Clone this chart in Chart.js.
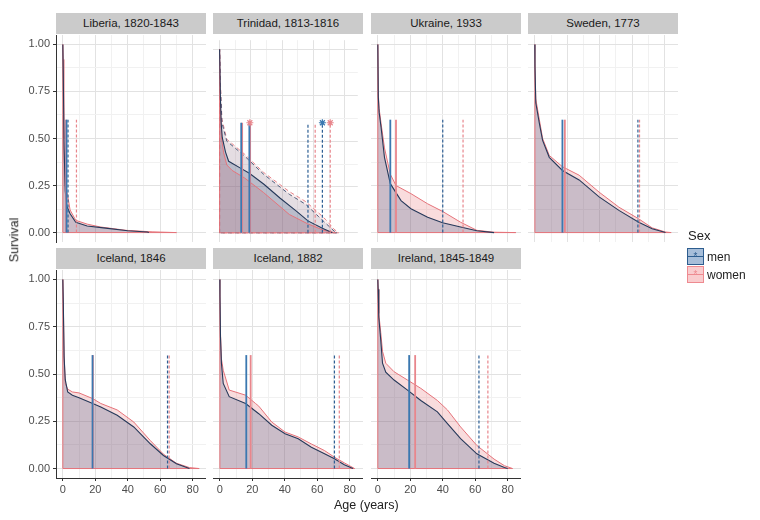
<!DOCTYPE html>
<html>
<head>
<meta charset="utf-8">
<script src="https://cdn.jsdelivr.net/npm/chart.js@4.4.0/dist/chart.umd.min.js"></script>
<style>
  body { margin: 0; background: #fff; font-family: "Liberation Sans", Arial, sans-serif; }
  #wrap { position: relative; width: 760px; height: 520px; overflow: hidden; background: #fff; }
  canvas { position: absolute; }
  .strip { position: absolute; background: #cbcbcb; color: #1a1a1a; font-size: 11.5px; text-align: center; line-height: 21px; height: 21px; }
  .title { position: absolute; color: #222; font-size: 12px; white-space: nowrap; }
  .key { position: absolute; width: 15px; height: 15px; }
  .key .kl { position: absolute; left: 0; right: 0; top: 7px; height: 1px; }
  .key .ks { position: absolute; left: 0; right: 0; top: 2px; text-align: center; font-size: 10px; line-height: 12px; }
  .klab { position: absolute; font-size: 12px; color: #222; }
</style>
</head>
<body>
<div id="wrap"></div>
<script>
// ages (years) and survival, one list per facet and sex
const liberiaMen = [[0,1],[0.3,0.82],[0.8,0.45],[1.5,0.22],[2.5,0.14],[4.5,0.1],[8,0.055],[15,0.035],[25,0.025],[40,0.01],[52,0.003],[53,0]];
const liberiaWomen = [[0,1],[0.2,0.92],[0.6,0.5],[1.4,0.25],[2.9,0.2],[4.5,0.12],[8,0.065],[15,0.045],[23,0.03],[39,0.012],[55,0.004],[70,0]];

const trinidadMen = [[0,1],[0.5,0.75],[1,0.6],[1.7,0.52],[3.8,0.44],[5.8,0.39],[13.9,0.35],[19,0.325],[28.3,0.265],[38.5,0.19],[48.8,0.12],[56.4,0.065],[65.6,0.025],[72,0]];
const trinidadWomen = [[0,1],[0.5,0.7],[1.2,0.52],[2.5,0.44],[4.6,0.37],[8,0.34],[15.8,0.3],[28,0.22],[44.5,0.1],[56,0.05],[66,0.015],[74,0]];
const trinidadMenB = [[0,1],[0.5,0.8],[1.5,0.6],[4.6,0.5],[15.8,0.42],[28,0.32],[44.5,0.21],[55,0.155],[63,0.09],[68,0.05],[73,0.01],[75,0]];
const trinidadWomenB = [[0,1],[0.5,0.82],[1.5,0.62],[4.6,0.51],[15.8,0.43],[28,0.33],[44.5,0.225],[55,0.17],[63,0.11],[68,0.07],[73,0.02],[76,0]];

const ukraineMen = [[0,1],[0.3,0.72],[0.8,0.64],[2,0.56],[4.1,0.4],[7.7,0.26],[14.3,0.17],[20.4,0.127],[30.7,0.082],[39.9,0.052],[51,0.03],[61,0.01],[71.6,0]];
const ukraineWomen = [[0,1],[0.3,0.74],[0.8,0.66],[2,0.58],[4.1,0.45],[7.7,0.31],[11.2,0.25],[20.4,0.207],[30.7,0.153],[40,0.112],[51,0.055],[61,0.012],[71.6,0.002],[85,0]];

const swedenMen = [[0,1],[0.1,0.88],[0.6,0.69],[2.8,0.58],[4.8,0.49],[8.9,0.4],[17,0.33],[27.3,0.28],[39.6,0.19],[51.8,0.118],[64,0.055],[72.3,0.02],[80.5,0]];
const swedenWomen = [[0,1],[0.1,0.9],[0.6,0.71],[2.8,0.6],[4.8,0.5],[8.9,0.41],[17,0.35],[27.3,0.305],[39.6,0.215],[51.8,0.135],[64,0.073],[72.3,0.025],[80.5,0.003],[84,0]];

const iceland1846Men = [[0,1],[0.3,0.876],[0.8,0.59],[1.5,0.47],[3,0.405],[5.9,0.388],[10,0.375],[18.4,0.344],[23.4,0.326],[33.5,0.282],[43.7,0.22],[53.9,0.131],[62,0.069],[70,0.025],[78,0]];
const iceland1846Women = [[0,1],[0.3,0.88],[0.8,0.6],[1.5,0.45],[3,0.42],[5.9,0.405],[10,0.4],[18.4,0.37],[23.4,0.344],[33.5,0.31],[43.7,0.246],[53.9,0.148],[62,0.076],[70,0.028],[78,0.005],[84,0]];

const iceland1882Men = [[0,1],[0.1,0.91],[0.4,0.7],[1,0.557],[2.1,0.45],[5.8,0.38],[15.9,0.344],[24,0.29],[32,0.229],[40.2,0.184],[48.3,0.158],[56.4,0.113],[64.5,0.078],[70.6,0.052],[76.7,0.02],[82,0]];
const iceland1882Women = [[0,1],[0.1,0.92],[0.4,0.72],[1,0.58],[2.1,0.52],[5.8,0.415],[15.9,0.388],[22,0.344],[24,0.33],[32,0.246],[40.2,0.193],[48.3,0.167],[56.4,0.13],[64.5,0.095],[70.6,0.06],[76.7,0.03],[83,0]];

const irelandMen = [[0,1],[0.2,0.947],[0.6,0.8],[1.8,0.68],[2.9,0.557],[4.9,0.51],[10,0.468],[18.3,0.415],[26.5,0.36],[36.7,0.3],[42.9,0.238],[51,0.158],[61,0.078],[71.6,0.028],[78,0.005],[80,0]];
const irelandWomen = [[0,1],[0.2,0.95],[0.6,0.82],[1.8,0.72],[2.9,0.62],[4.9,0.557],[10,0.512],[18.3,0.468],[26.5,0.424],[36.7,0.36],[42.9,0.31],[51,0.22],[61,0.122],[71.6,0.05],[78,0.015],[83,0]];

// vertical markers: [men solid, women solid, men dashed, women dashed]
const liberiaLines = [2.3, 2.0, 3.2, 8.4];
const trinidadLines = [13.8, 14.4, 56.4, 61.0];
const trinidadLines2 = [19.0, 19.5, 65.6, 70.6];
const ukraineLines = [7.7, 11.2, 40.0, 52.5];
const swedenLines = [17.0, 18.5, 63.5, 64.5];
const iceland1846Lines = [18.3, 18.5, 64.5, 65.5];
const iceland1882Lines = [16.3, 19.0, 70.6, 73.6];
const irelandLines = [19.3, 23.0, 62.3, 67.8];
const lineTop = 0.6;
const trinidadStarsMen = [65.6];
const trinidadStarsWomen = [19.3, 70.6];

const panelTitles = ['Liberia, 1820-1843', 'Trinidad, 1813-1816', 'Ukraine, 1933', 'Sweden, 1773',
                     'Iceland, 1846', 'Iceland, 1882', 'Ireland, 1845-1849'];
const xTicks = [0, 10, 20, 30, 40, 50, 60, 70, 80];
const yTicks = [0, 0.125, 0.25, 0.375, 0.5, 0.625, 0.75, 0.875, 1];
const xRange = [-4.2, 88.2];
const yRange = [-0.05, 1.05];

// layout
const colLeft = [56, 213, 371, 528];
const rowTop = [35, 270];
const panelH = [207, 208];
const panelW = 150;
const stripH = 21;
const yAxisW = 45;
const xAxisH = 22;
const font = '"Liberation Sans", Arial, sans-serif';

const menLine = '#26395a', womenLine = '#e5737a';
const menMark = '#3b78b0', womenMark = '#e8868c';
const menFill = 'rgba(60,90,135,0.25)', womenFill = 'rgba(232,120,125,0.26)';
const menFillB = 'rgba(60,90,135,0.12)', womenFillB = 'rgba(232,120,125,0.12)';
const majorGrid = '#e2e2e2', minorGrid = '#f1f1f1';

const panels = [
  {men: liberiaMen, women: liberiaWomen, lines: liberiaLines},
  {men: trinidadMen, women: trinidadWomen, lines: trinidadLines, menB: trinidadMenB, womenB: trinidadWomenB,
   lines2: trinidadLines2, starsMen: trinidadStarsMen, starsWomen: trinidadStarsWomen},
  {men: ukraineMen, women: ukraineWomen, lines: ukraineLines},
  {men: swedenMen, women: swedenWomen, lines: swedenLines},
  {men: iceland1846Men, women: iceland1846Women, lines: iceland1846Lines},
  {men: iceland1882Men, women: iceland1882Women, lines: iceland1882Lines},
  {men: irelandMen, women: irelandWomen, lines: irelandLines}
];

function pts(pairs) {
  return pairs.map(p => ({x: p[0], y: p[1]}));
}

function outline(pairs) {
  // run the outline along the axis too, like the ribbon edge
  return [{x: 0, y: 0}].concat(pts(pairs), [{x: 0, y: 0}]);
}

function curveLine(data, color, width, dash) {
  return {data: data, borderColor: color, borderWidth: width, borderDash: dash || [], fill: false, pointRadius: 0, tension: 0};
}

function curveFill(pairs, color) {
  return {data: pts(pairs), borderColor: 'rgba(0,0,0,0)', borderWidth: 0, backgroundColor: color, fill: 'origin', pointRadius: 0, tension: 0};
}

function vline(age, color, dashed) {
  return {data: [{x: age, y: 0}, {x: age, y: lineTop}], borderColor: color, borderWidth: dashed ? 1.2 : 1.8,
          borderDash: dashed ? [3, 2] : [], fill: false, pointRadius: 0};
}

function stars(ages, color) {
  return {data: ages.map(a => ({x: a, y: lineTop})), showLine: false, pointStyle: 'star', pointRadius: 3.5,
          borderColor: color, borderWidth: 1.2, backgroundColor: color};
}

function markLines(l) {
  return [vline(l[0], menMark, false), vline(l[1], womenMark, false), vline(l[2], '#2d5f94', true), vline(l[3], womenMark, true)];
}

const isMajorX = v => v % 20 === 0;
const isMajorY = v => Math.abs(v * 4 - Math.round(v * 4)) < 1e-9;

const wrap = document.getElementById('wrap');

panels.forEach((p, i) => {
  const col = i % 4, row = Math.floor(i / 4);
  const bottom = row === 1, left = col === 0;

  const strip = document.createElement('div');
  strip.className = 'strip';
  strip.style.left = colLeft[col] + 'px';
  strip.style.top = (rowTop[row] - stripH - 1) + 'px';
  strip.style.width = panelW + 'px';
  strip.textContent = panelTitles[i];
  wrap.appendChild(strip);

  const cv = document.createElement('canvas');
  cv.width = yAxisW + panelW;
  cv.height = panelH[row] + xAxisH;
  cv.style.left = (colLeft[col] - yAxisW) + 'px';
  cv.style.top = rowTop[row] + 'px';
  wrap.appendChild(cv);

  // first dataset is drawn on top
  let datasets = [];
  if (p.starsMen) datasets.push(stars(p.starsMen, menMark), stars(p.starsWomen, womenMark));
  if (p.lines2) datasets = datasets.concat(markLines(p.lines2));
  datasets = datasets.concat(markLines(p.lines));
  datasets.push(curveLine(pts(p.men), menLine, 1.1));
  datasets.push(curveLine(outline(p.women), womenLine, 1));
  if (p.menB) {
    datasets.push(curveLine(outline(p.menB), '#4a5a7a', 1, [4, 3]));
    datasets.push(curveLine(outline(p.womenB), womenMark, 1, [4, 3]));
  }
  datasets.push(curveFill(p.men, menFill));
  datasets.push(curveFill(p.women, womenFill));
  if (p.menB) {
    datasets.push(curveFill(p.menB, menFillB));
    datasets.push(curveFill(p.womenB, womenFillB));
  }

  new Chart(cv, {
    type: 'line',
    data: {datasets: datasets},
    options: {
      responsive: false,
      animation: false,
      events: [],
      layout: {padding: 0},
      plugins: {legend: {display: false}, tooltip: {enabled: false}},
      scales: {
        x: {
          type: 'linear', min: xRange[0], max: xRange[1],
          afterBuildTicks: s => { s.ticks = xTicks.map(v => ({value: v})); },
          afterFit: s => { s.height = xAxisH; s.paddingLeft = 0; s.paddingRight = 0; },
          ticks: {display: bottom, autoSkip: false, maxRotation: 0, padding: 2, color: '#4d4d4d',
                  font: {size: 11, family: font}, callback: v => isMajorX(v) ? String(v) : ''},
          grid: {color: c => isMajorX(c.tick.value) ? majorGrid : minorGrid, lineWidth: 1,
                 drawTicks: bottom, tickLength: 3,
                 tickColor: c => isMajorX(c.tick.value) ? '#333' : 'rgba(0,0,0,0)'},
          border: {display: bottom, color: '#333', width: 1}
        },
        y: {
          type: 'linear', min: yRange[0], max: yRange[1],
          afterBuildTicks: s => { s.ticks = yTicks.map(v => ({value: v})); },
          afterFit: s => { s.width = yAxisW; s.paddingTop = 0; s.paddingBottom = 0; },
          ticks: {display: left, autoSkip: false, padding: 3, color: '#4d4d4d',
                  font: {size: 11, family: font}, callback: v => isMajorY(v) ? v.toFixed(2) : ''},
          grid: {color: c => isMajorY(c.tick.value) ? majorGrid : minorGrid, lineWidth: 1,
                 drawTicks: left, tickLength: 3,
                 tickColor: c => isMajorY(c.tick.value) ? '#333' : 'rgba(0,0,0,0)'},
          border: {display: left, color: '#333', width: 1}
        }
      }
    }
  });
});

function addText(cls, txt, css) {
  const d = document.createElement('div');
  d.className = cls;
  d.textContent = txt;
  Object.assign(d.style, css);
  wrap.appendChild(d);
  return d;
}

addText('title', 'Age (years)', {left: '334px', top: '498px', fontSize: '12.5px'});
addText('title', 'Survival', {left: '-8px', top: '233px', transform: 'rotate(-90deg)', fontSize: '12.5px'});
addText('title', 'Sex', {left: '688px', top: '228px', fontSize: '13px'});

function legendKey(top, fill, border, label) {
  const k = document.createElement('div');
  k.className = 'key';
  k.style.left = '687px';
  k.style.top = top + 'px';
  k.style.background = fill;
  k.style.border = '1px solid ' + border;
  k.innerHTML = '<span class="kl"></span><span class="ks">*</span>';
  k.querySelector('.kl').style.background = border;
  k.querySelector('.ks').style.color = border;
  wrap.appendChild(k);
  addText('klab', label, {left: '707px', top: (top + 2) + 'px'});
}
legendKey(248, 'rgba(60,110,170,0.45)', '#2d5d8f', 'men');
legendKey(266, 'rgba(240,120,125,0.38)', '#ee8a90', 'women');
</script>
</body>
</html>
